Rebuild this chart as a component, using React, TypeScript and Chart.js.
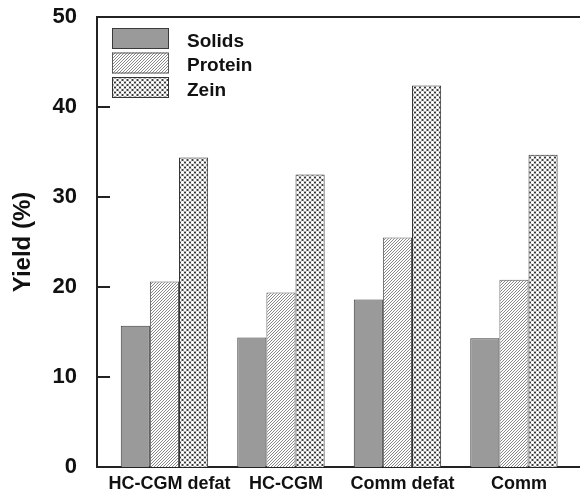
import React, { useEffect, useRef } from 'react';
import { Chart, registerables } from 'chart.js';

Chart.register(...registerables);

const categories = ['HC-CGM defat', 'HC-CGM', 'Comm defat', 'Comm'];
const seriesNames = ['Solids', 'Protein', 'Zein'];
const solids = [15.7, 14.4, 18.6, 14.3];
const protein = [20.6, 19.4, 25.5, 20.8];
const zein = [34.4, 32.5, 42.4, 34.7];
const yTicks = [0, 10, 20, 30, 40, 50];

const FONT = '"Liberation Sans", Arial, sans-serif';

function makeHatch(): CanvasPattern | string {
  const s = 3;
  const c = document.createElement('canvas');
  c.width = s;
  c.height = s;
  const g = c.getContext('2d')!;
  g.fillStyle = '#ffffff';
  g.fillRect(0, 0, s, s);
  g.strokeStyle = '#7a7a7a';
  g.lineWidth = 0.9;
  g.beginPath();
  for (let k = -1; k <= 1; k++) {
    g.moveTo(k * s, s);
    g.lineTo(k * s + s, 0);
  }
  g.stroke();
  return g.createPattern(c, 'repeat') || '#cccccc';
}

function makeCross(): CanvasPattern | string {
  const s = 5;
  const c = document.createElement('canvas');
  c.width = s;
  c.height = s;
  const g = c.getContext('2d')!;
  g.fillStyle = '#5c5c5c';
  g.fillRect(0, 0, s, s);
  g.fillStyle = '#ffffff';
  const circles = [
    [0, 0],
    [s, 0],
    [0, s],
    [s, s],
    [s / 2, s / 2],
  ];
  for (const [x, y] of circles) {
    g.beginPath();
    g.arc(x, y, 1.7, 0, Math.PI * 2);
    g.fill();
  }
  g.fillStyle = '#1e1e1e';
  const dots = [
    [s / 2, 0],
    [0, s / 2],
    [s, s / 2],
    [s / 2, s],
  ];
  for (const [x, y] of dots) {
    g.beginPath();
    g.arc(x, y, 0.8, 0, Math.PI * 2);
    g.fill();
  }
  return g.createPattern(c, 'repeat') || '#bbbbbb';
}

const framePlugin = {
  id: 'frame',
  afterDraw(chart: any) {
    const { ctx, chartArea: a, scales } = chart;
    ctx.save();
    ctx.strokeStyle = '#222222';
    ctx.lineWidth = 2;
    ctx.beginPath();
    ctx.moveTo(a.left - 1, a.top);
    ctx.lineTo(a.right, a.top);
    const ys = scales.y;
    ys.ticks.forEach((t: any) => {
      if (t.value > ys.min && t.value < ys.max) {
        const p = ys.getPixelForValue(t.value);
        ctx.moveTo(a.left, p);
        ctx.lineTo(a.left + 13, p);
      }
    });
    ctx.stroke();
    ctx.restore();
  },
};

const legendPlugin = {
  id: 'boxLegend',
  afterDraw(chart: any) {
    const { ctx, chartArea: a } = chart;
    ctx.save();
    chart.data.datasets.forEach((ds: any, i: number) => {
      const bx = a.left + 15;
      const by = a.top + 11 + i * 24.5;
      const bw = 57;
      const bh = 21;
      ctx.fillStyle = ds.backgroundColor;
      ctx.fillRect(bx, by, bw, bh);
      ctx.strokeStyle = ds.borderColor;
      ctx.lineWidth = 1;
      ctx.strokeRect(bx + 0.5, by + 0.5, bw - 1, bh - 1);
      ctx.fillStyle = '#111111';
      ctx.font = `bold 19px ${FONT}`;
      ctx.textAlign = 'left';
      ctx.textBaseline = 'middle';
      ctx.fillText(ds.label, bx + bw + 18, by + bh / 2 + 3);
    });
    ctx.restore();
  },
};

const zeroPad = (s: any) => {
  s.paddingTop = 0;
  s.paddingBottom = 0;
  s.paddingLeft = 0;
  s.paddingRight = 0;
};

export default function App() {
  const ref = useRef<HTMLCanvasElement>(null);

  useEffect(() => {
    const canvas = ref.current;
    if (!canvas) return;
    const fills = ['#9a9a9a', makeHatch(), makeCross()];
    const borders = ['#3a3a3a', '#5a5a5a', '#333333'];
    const series = [solids, protein, zein];

    const chart = new Chart(canvas, {
      type: 'bar',
      data: {
        datasets: series.map((vals, si) => ({
          label: seriesNames[si],
          data: vals.map((v, i) => ({ x: i, y: v })),
          backgroundColor: fills[si] as any,
          borderColor: borders[si],
          borderWidth: 1,
          categoryPercentage: 0.75,
          barPercentage: 1,
        })),
      },
      options: {
        animation: false,
        responsive: false,
        layout: { padding: { top: 17, left: 0, right: 0, bottom: 0 } },
        plugins: {
          legend: { display: false },
          tooltip: { enabled: false },
        },
        scales: {
          x: {
            type: 'linear',
            min: -0.579,
            max: 3.567,
            offset: false,
            grid: { display: false, drawTicks: false, offset: false },
            border: { display: true, color: '#222222', width: 2 },
            afterBuildTicks: (s: any) => {
              s.ticks = categories.map((_, i) => ({ value: i }));
            },
            afterFit: (s: any) => {
              s.height = 24;
              zeroPad(s);
            },
            ticks: {
              callback: (v: any) => categories[v as number] ?? '',
              font: { family: FONT, size: 18, weight: 'bold' },
              color: '#111111',
              padding: 6,
              maxRotation: 0,
              minRotation: 0,
              autoSkip: false,
              labelOffset: 5,
            },
          },
          y: {
            min: 0,
            max: 50,
            afterBuildTicks: (s: any) => {
              s.ticks = yTicks.map((v) => ({ value: v }));
            },
            afterFit: (s: any) => {
              s.width = 97;
              zeroPad(s);
            },
            grid: { display: false, drawTicks: false },
            border: { display: true, color: '#222222', width: 2 },
            ticks: {
              font: { family: FONT, size: 22, weight: 'bold' },
              color: '#111111',
              padding: 20,
            },
            title: {
              display: true,
              text: 'Yield (%)',
              font: { family: FONT, size: 24, weight: 'bold' },
              color: '#111111',
              padding: { top: 9, bottom: 0 },
            },
          },
        },
      } as any,
      plugins: [framePlugin, legendPlugin],
    });

    return () => chart.destroy();
  }, []);

  return (
    <div style={{ position: 'absolute', left: 0, top: 0, width: 580, height: 491, background: '#ffffff' }}>
      <canvas ref={ref} width={580} height={491} style={{ display: 'block' }} />
    </div>
  );
}
